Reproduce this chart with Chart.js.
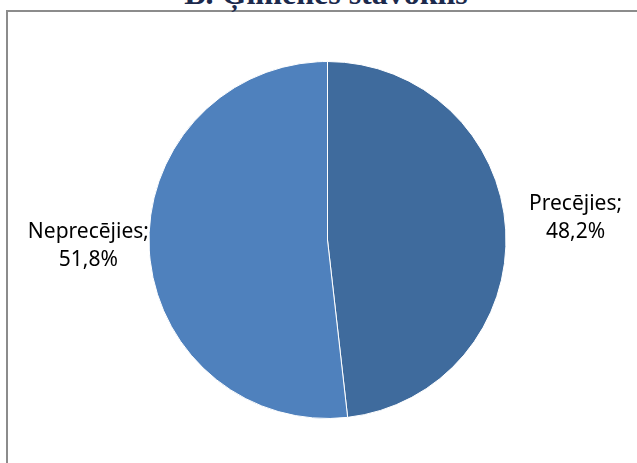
<!DOCTYPE html>
<html>
<head>
<meta charset="utf-8">
<script src="https://cdn.jsdelivr.net/npm/chart.js@4.4.1/dist/chart.umd.min.js"></script>
<style>
  html, body { margin: 0; padding: 0; background: #fff; overflow: hidden; }
  #wrap { position: relative; width: 637px; height: 463px; overflow: hidden; }
  #frame { position: absolute; left: 6px; top: 10px; width: 700px; height: 500px;
    border: 2px solid #8c8c8c; box-sizing: border-box; }
  #title { position: absolute; left: 0; width: 652px; top: -25px; text-align: center;
    font: bold 32px "Liberation Serif", serif; color: #1c2a4d; line-height: 36px; }
  canvas { position: absolute; left: 0; top: 0; }
</style>
</head>
<body>
<div id="wrap">
  <div id="frame"></div>
  <div id="title">B. Ģimenes stāvoklis</div>
  <canvas id="pie" width="637" height="463"></canvas>
</div>
<script>
  const labels = ['Precējies', 'Neprecējies']
  const values = [48.2, 51.8]
  const colors = ['#3f6b9d', '#4f81bd']

  // distance of label centre past the rim, per slice
  const labelGap = [70, 61]

  // draws "Name; 12,3%" beside each slice, outside the pie
  const outsideLabels = {
    id: 'outsideLabels',
    afterDatasetsDraw(chart) {
      const ctx = chart.ctx
      const meta = chart.getDatasetMeta(0)
      ctx.save()
      ctx.font = '21px "Noto Sans", sans-serif'
      ctx.fillStyle = '#000'
      ctx.textAlign = 'center'
      ctx.textBaseline = 'middle'
      meta.data.forEach((arc, i) => {
        const mid = (arc.startAngle + arc.endAngle) / 2
        const r = arc.outerRadius + labelGap[i]
        const x = arc.x + Math.cos(mid) * r
        const y = arc.y + Math.sin(mid) * r - 8
        const pct = values[i].toFixed(1).replace('.', ',') + '%'
        ctx.fillText(labels[i] + ';', x, y - 14)
        ctx.fillText(pct, x, y + 14)
      })
      ctx.restore()
    },
  }

  new Chart(document.getElementById('pie'), {
    type: 'pie',
    data: {
      labels: labels,
      datasets: [{
        data: values,
        backgroundColor: colors,
        borderColor: '#ffffff',
        borderWidth: 1,
      }],
    },
    options: {
      responsive: false,
      animation: false,
      layout: { padding: { top: 61, bottom: 44, left: 148, right: 130 } },
      plugins: { legend: { display: false }, tooltip: { enabled: false } },
    },
    plugins: [outsideLabels],
  })
</script>
</body>
</html>
